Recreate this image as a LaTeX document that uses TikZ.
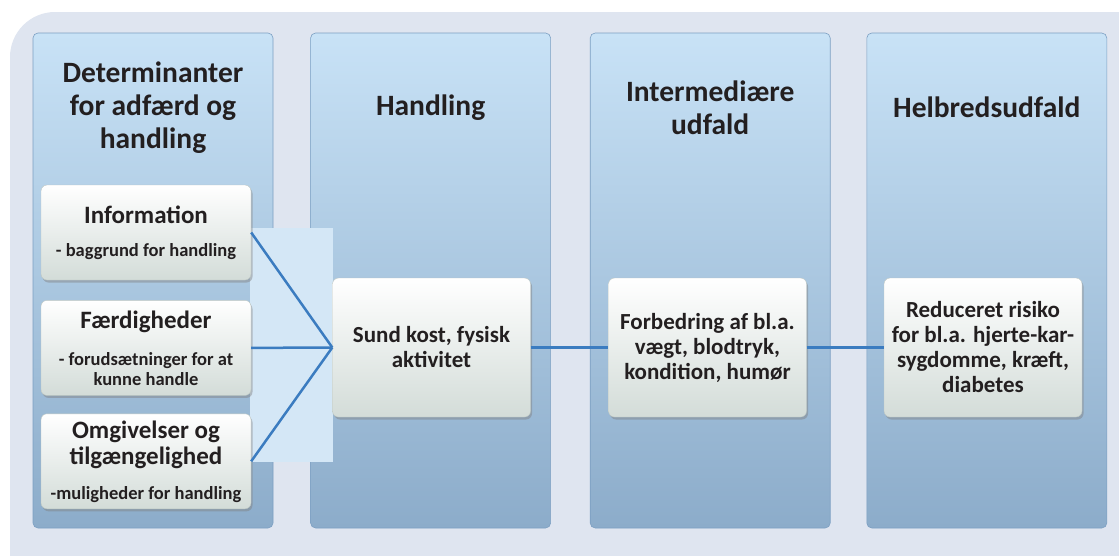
\documentclass[tikz,border=0pt]{standalone}
\usepackage{fontspec}
\setmainfont{Carlito}
\usetikzlibrary{positioning,shadows,calc}

\definecolor{bgpanel}{HTML}{DFE5F0}
\definecolor{coltop}{HTML}{C8E2F6}
\definecolor{colbot}{HTML}{8CACCA}
\definecolor{coledge}{HTML}{7C9FC2}
\definecolor{boxbot}{HTML}{D3DCD8}
\definecolor{boxedge}{HTML}{BCC6C2}
\definecolor{linkblue}{HTML}{3B7CC0}
\definecolor{band}{HTML}{D4E7F6}
\definecolor{txt}{HTML}{231F20}

\newcommand\bigline{\fontsize{25}{26}\selectfont}
\newcommand\smallline{\fontsize{18.5}{20}\selectfont}
\newcommand\factorfont{\bfseries\fontsize{18}{20}\selectfont\lineskiplimit=-50pt\relax}

\begin{document}
\begin{tikzpicture}[
  x=1pt, y=-1pt,
  node distance=37pt,
  column/.style={rectangle, rounded corners=5pt, minimum width=240pt, minimum height=495pt, top color=coltop, bottom color=colbot, draw=coledge, line width=.6pt},
  head/.style={align=center, font=\fontsize{29.5}{33}\selectfont\bfseries, text=txt},
  factor/.style={rectangle, rounded corners=6pt, minimum width=210pt, minimum height=95pt, top color=white, bottom color=boxbot, draw=boxedge, align=center, text=txt, font=\factorfont, inner sep=2pt, drop shadow={shadow xshift=1.5pt, shadow yshift=-2.5pt, opacity=.45}},
  stage/.style={factor, minimum width=198pt, minimum height=139pt, font=\fontsize{23}{25}\selectfont\bfseries},
  link/.style={draw=linkblue, line width=2.5pt}
]
\useasboundingbox (0,0) rectangle (1119,555);

% Panel
\fill[bgpanel, rounded corners=45pt] (10,12) rectangle (1160,600);

% Columns
\node[column] (c1) at (153,280.5) {};
\node[column, right=of c1] (c2) {};
\node[column, right=39pt of c2] (c3) {};
\node[column, right=36pt of c3] (c4) {};

% Headers
\node[head] (h1) at ($(c1.north)+(0,75)$) {Determinanter\\for adfærd og\\handling};
\node[head] (h2) at ($(c2.north)+(0,75)$) {Handling};
\node[head] (h3) at ($(c3.north)+(0,75)$) {Intermediære\\udfald};
\node[head] (h4) at ($(c4.north)+(0,75)$) {Helbredsudfald};

\fill[band] (250,228) rectangle (333,462);

% Determinants
\node[factor] (info) at (146,232.5) {\bigline Information\\[13pt]\smallline - baggrund for handling};
\node[factor, below=20pt of info] (skill) {\bigline Færdigheder\\[17pt]\smallline - forudsætninger for at\\\smallline kunne handle};
\node[factor, below=18pt of skill] (env) {\bigline Omgivelser og\\[6pt]\bigline tilgængelighed\\[15pt]\smallline -muligheder for handling};

% Stages
\node[stage] (act) at (431.5,347.5) {Sund kost, fysisk\\aktivitet};
\node[stage] (mid) at (707.5,347.5) {Forbedring af bl.a.\\vægt, blodtryk,\\kondition, humør};
\node[stage] (out) at (983,347.5) {Reduceret risiko\\for bl.a. hjerte-kar-\\sygdomme, kræft,\\diabetes};

% Links
\draw[link] (info.east) -- (act.west);
\draw[link] (skill.east) -- (act.west);
\draw[link] (env.east) -- (act.west);
\draw[link] (act) -- (mid);
\draw[link] (mid) -- (out);

\end{tikzpicture}
\end{document}
